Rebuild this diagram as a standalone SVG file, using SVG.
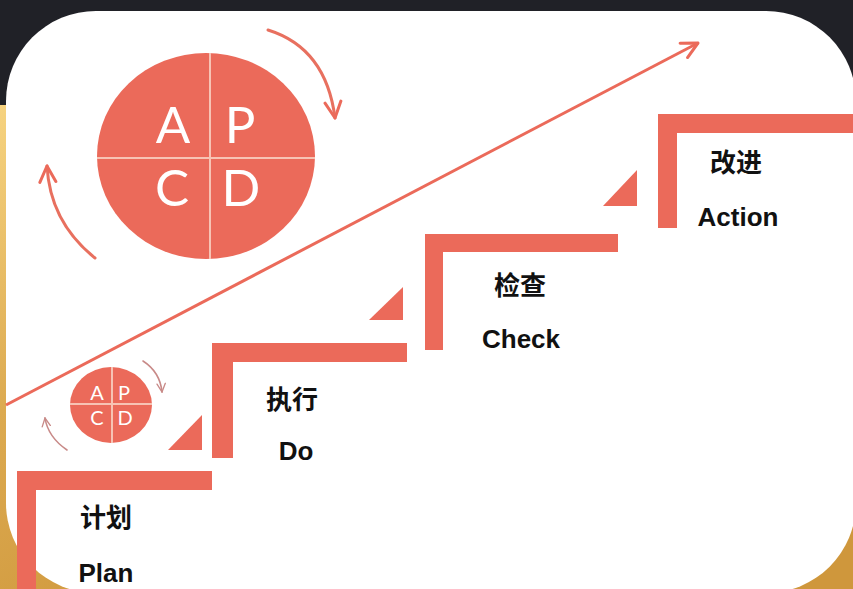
<svg xmlns="http://www.w3.org/2000/svg" width="853" height="589" viewBox="0 0 853 589">
  <defs>
    <linearGradient id="gold" gradientUnits="userSpaceOnUse" x1="0" y1="105" x2="250" y2="589">
      <stop offset="0" stop-color="#f6d380"/>
      <stop offset="0.5" stop-color="#dcaa50"/>
      <stop offset="1" stop-color="#cf973c"/>
    </linearGradient>
    <marker id="vhead" viewBox="0 0 20 20" refX="18" refY="10" markerWidth="20" markerHeight="20" markerUnits="userSpaceOnUse" orient="auto">
      <path d="M2,2 L18,10 L2,18" fill="none" stroke="#eb6a5a" stroke-width="3" stroke-linecap="round" stroke-linejoin="round"/>
    </marker>
    <marker id="vheadSmall" viewBox="0 0 12 12" refX="11" refY="6" markerWidth="10" markerHeight="10" markerUnits="userSpaceOnUse" orient="auto">
      <path d="M1,1 L11,6 L1,11" fill="none" stroke="#c88a88" stroke-width="1.6" stroke-linecap="round"/>
    </marker>
  </defs>
  <style>
    .salmon { fill: #eb6a5a; }
    .divider { stroke: #f7c3b4; stroke-width: 2; }
    .letter { font-family: "Lato", "Liberation Sans", sans-serif; fill: #ffffff; text-anchor: middle; }
    .cn { font-family: "Noto Sans CJK SC", sans-serif; font-weight: 700; font-size: 26px; fill: #111111; text-anchor: middle; }
    .en { font-family: "Liberation Sans", "Noto Sans CJK SC", sans-serif; font-weight: 700; font-size: 26px; fill: #111111; text-anchor: middle; }
    .arc { fill: none; stroke: #e8705f; stroke-width: 3; stroke-linecap: round; }
    .arcSmall { fill: none; stroke: #c88a88; stroke-width: 1.6; stroke-linecap: round; }
  </style>

  <!-- background -->
  <rect x="0" y="0" width="853" height="589" fill="url(#gold)"/>
  <rect x="0" y="0" width="853" height="105" fill="#202127"/>
  <rect x="6" y="11" width="850" height="582" rx="90" ry="90" fill="#ffffff"/>

  <!-- connectors -->
  <g id="connectors">
    <line x1="6" y1="405" x2="698" y2="43" stroke="#eb6a5a" stroke-width="3" marker-end="url(#vhead)"/>
    <path class="arc" d="M268,30 Q326,48 335,118" marker-end="url(#vhead)"/>
    <path class="arc" d="M95,258 Q50,222 47,166" marker-end="url(#vhead)"/>
    <path class="arcSmall" d="M143,361 Q160,372 162,392" marker-end="url(#vheadSmall)"/>
    <path class="arcSmall" d="M67,450 Q48,437 45,418" marker-end="url(#vheadSmall)"/>
  </g>

  <!-- big PDCA circle -->
  <g id="pdca-big">
    <ellipse class="salmon" cx="206" cy="156" rx="109" ry="103"/>
    <line class="divider" x1="210" y1="53" x2="210" y2="259"/>
    <line class="divider" x1="97" y1="158" x2="315" y2="158"/>
    <text class="letter" x="173" y="143" font-size="51">A</text>
    <text class="letter" x="240" y="143" font-size="51">P</text>
    <text class="letter" x="172" y="206" font-size="51">C</text>
    <text class="letter" x="241" y="206" font-size="51">D</text>
  </g>

  <!-- small PDCA circle -->
  <g id="pdca-small">
    <ellipse class="salmon" cx="111" cy="405" rx="41" ry="38"/>
    <line class="divider" x1="112" y1="367" x2="112" y2="443" stroke-width="1.5"/>
    <line class="divider" x1="70" y1="404" x2="152" y2="404" stroke-width="1.5"/>
    <text class="letter" x="97" y="400" font-size="20">A</text>
    <text class="letter" x="124" y="400" font-size="20">P</text>
    <text class="letter" x="97" y="425" font-size="20">C</text>
    <text class="letter" x="125" y="425" font-size="20">D</text>
  </g>

  <!-- step: Plan -->
  <g id="step-plan">
    <rect class="salmon" x="17" y="471" width="195" height="19"/>
    <rect class="salmon" x="17" y="471" width="19" height="130"/>
    <text class="cn" x="106" y="527">计划</text>
    <text class="en" x="106" y="582">Plan</text>
  </g>

  <!-- step: Do -->
  <g id="step-do">
    <polygon class="salmon" points="168,450 202,450 202,415"/>
    <rect class="salmon" x="212" y="343" width="195" height="19"/>
    <rect class="salmon" x="212" y="343" width="21" height="115"/>
    <text class="cn" x="292" y="409">执行</text>
    <text class="en" x="296" y="460">Do</text>
  </g>

  <!-- step: Check -->
  <g id="step-check">
    <polygon class="salmon" points="369,320 403,320 403,287"/>
    <rect class="salmon" x="425" y="234" width="193" height="18"/>
    <rect class="salmon" x="425" y="234" width="18" height="116"/>
    <text class="cn" x="520" y="295">检查</text>
    <text class="en" x="521" y="348">Check</text>
  </g>

  <!-- step: Action -->
  <g id="step-action">
    <polygon class="salmon" points="603,206 637,206 637,170"/>
    <rect class="salmon" x="658" y="114" width="195" height="19"/>
    <rect class="salmon" x="658" y="114" width="19" height="114"/>
    <text class="cn" x="736" y="172">改进</text>
    <text class="en" x="738" y="226">Action</text>
  </g>
</svg>
